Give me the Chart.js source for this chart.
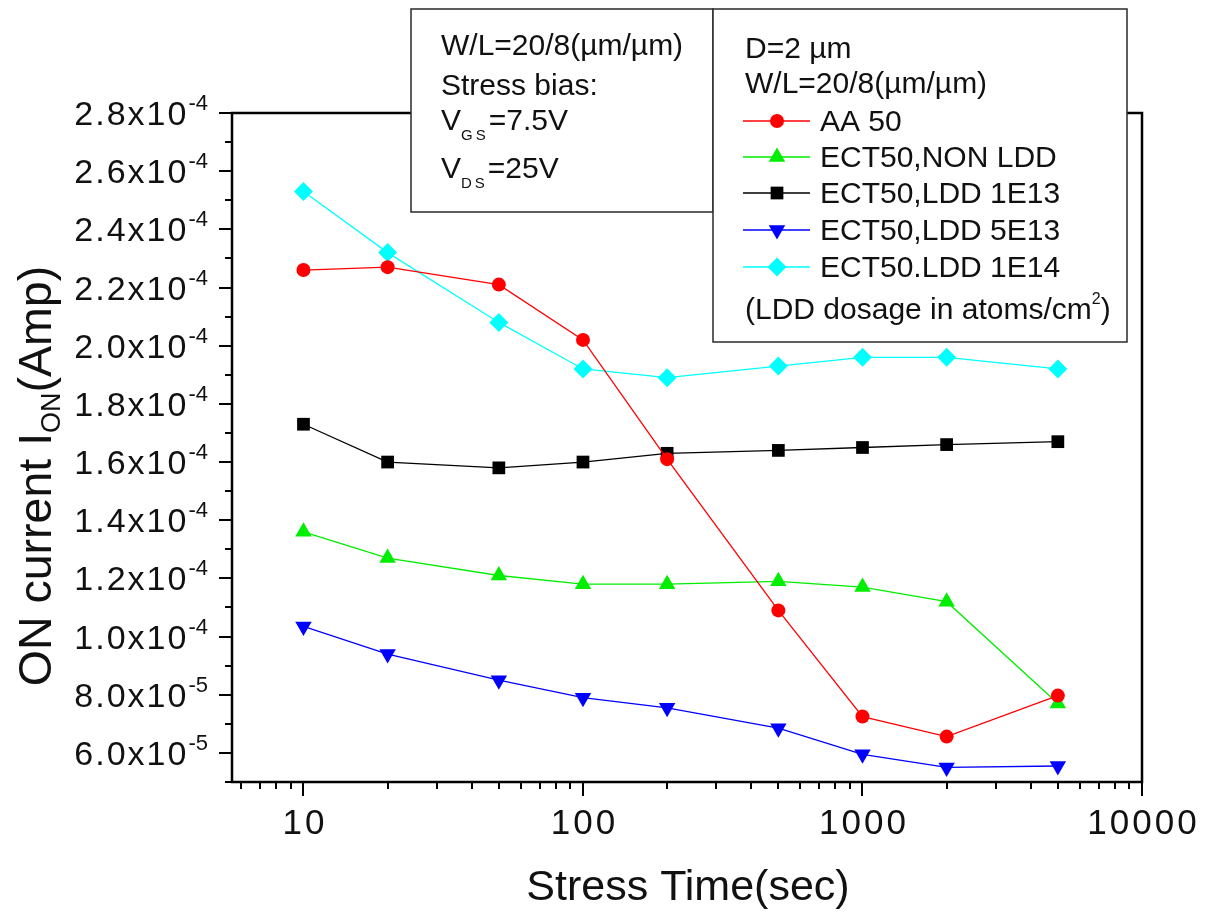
<!DOCTYPE html>
<html>
<head>
<meta charset="utf-8">
<script src="https://cdn.jsdelivr.net/npm/chart.js@4.4.1/dist/chart.umd.min.js"></script>
<style>
  html, body { margin: 0; padding: 0; background: #ffffff; }
  #wrap { width: 1210px; height: 915px; position: relative; }
</style>
</head>
<body>
<div id="wrap"><canvas id="c" width="1210" height="915"></canvas></div>
<script>
// Stress time (s) and ON current (A) for each device
const stressTimes = [10, 20, 50, 100, 200, 500, 1000, 2000, 5000];
const aa50         = [2.26e-4, 2.27e-4, 2.21e-4, 2.02e-4, 1.61e-4, 1.09e-4, 7.25e-5, 6.56e-5, 7.97e-5];
const ect50NonLdd  = [1.36e-4, 1.27e-4, 1.21e-4, 1.18e-4, 1.18e-4, 1.19e-4, 1.17e-4, 1.12e-4, 7.7e-5];
const ect50Ldd1e13 = [1.73e-4, 1.60e-4, 1.58e-4, 1.60e-4, 1.63e-4, 1.64e-4, 1.65e-4, 1.66e-4, 1.67e-4];
const ect50Ldd5e13 = [1.035e-4, 9.4e-5, 8.5e-5, 7.9e-5, 7.55e-5, 6.85e-5, 5.95e-5, 5.5e-5, 5.55e-5];
const ect50Ldd1e14 = [2.53e-4, 2.32e-4, 2.08e-4, 1.92e-4, 1.89e-4, 1.93e-4, 1.96e-4, 1.96e-4, 1.92e-4];
const seriesLabels = ['AA 50', 'ECT50,NON LDD', 'ECT50,LDD 1E13', 'ECT50,LDD 5E13', 'ECT50.LDD 1E14'];

// Axis ticks
const xMajorTicks = [10, 100, 1000, 10000];
const xMajorLabels = ['10', '100', '1000', '10000'];
const xMinorTicks = [6, 7, 8, 9, 20, 30, 40, 50, 60, 70, 80, 90, 200, 300, 400, 500, 600, 700, 800, 900,
                     2000, 3000, 4000, 5000, 6000, 7000, 8000, 9000];
const yMajorTicks = [6.0e-5, 8.0e-5, 1.0e-4, 1.2e-4, 1.4e-4, 1.6e-4, 1.8e-4, 2.0e-4, 2.2e-4, 2.4e-4, 2.6e-4, 2.8e-4];
const yTickMantissa = ['6.0', '8.0', '1.0', '1.2', '1.4', '1.6', '1.8', '2.0', '2.2', '2.4', '2.6', '2.8'];
const yTickExponent = ['-5', '-5', '-4', '-4', '-4', '-4', '-4', '-4', '-4', '-4', '-4', '-4'];
const yMinorTicks = [5.0e-5, 7.0e-5, 9.0e-5, 1.1e-4, 1.3e-4, 1.5e-4, 1.7e-4, 1.9e-4, 2.1e-4, 2.3e-4, 2.5e-4, 2.7e-4];

const FONT = "'Liberation Sans', Arial, Helvetica, sans-serif";

function pts(values) {
  return stressTimes.map((t, i) => ({ x: t, y: values[i] }));
}

function series(label, values, color, style, radius, rotation) {
  return {
    label: label,
    data: pts(values),
    borderColor: color,
    backgroundColor: color,
    borderWidth: 1.3,
    pointStyle: style,
    pointRadius: radius,
    pointRotation: rotation || 0,
    pointBorderWidth: 0,
    pointBackgroundColor: color,
    showLine: true,
    tension: 0
  };
}

const datasets = [
  series(seriesLabels[0], aa50, '#ff0000', 'circle', 7),
  series(seriesLabels[1], ect50NonLdd, '#00ee00', 'triangle', 9.5),
  series(seriesLabels[2], ect50Ldd1e13, '#000000', 'rect', 9),
  series(seriesLabels[3], ect50Ldd5e13, '#0000ff', 'triangle', 9.5, 180),
  series(seriesLabels[4], ect50Ldd1e14, '#00ffff', 'rectRot', 9.5)
];

// draw a run of text pieces with individual size, spacing and vertical offset
function setPart(ctx, p) {
  ctx.font = p.size + 'px ' + FONT;
  if ('letterSpacing' in ctx) ctx.letterSpacing = (p.ls || 0) + 'px';
}
function richWidth(ctx, parts) {
  let w = 0;
  parts.forEach(p => {
    setPart(ctx, p);
    w += ctx.measureText(p.t).width + (p.gap || 0);
  });
  return w;
}
function drawRich(ctx, parts, x, y) {
  let cx = x;
  parts.forEach(p => {
    setPart(ctx, p);
    ctx.fillText(p.t, cx, y + (p.dy || 0));
    cx += ctx.measureText(p.t).width + (p.gap || 0);
  });
  if ('letterSpacing' in ctx) ctx.letterSpacing = '0px';
  return cx;
}

function marker(ctx, ds, x, y) {
  ctx.save();
  ctx.fillStyle = ds.pointBackgroundColor;
  ctx.strokeStyle = ds.pointBackgroundColor;
  Chart.helpers.drawPoint(ctx, {
    pointStyle: ds.pointStyle,
    rotation: ds.pointRotation,
    radius: ds.pointRadius,
    borderWidth: 0
  }, x, y);
  ctx.restore();
}

const decorations = {
  id: 'decorations',
  afterDraw(chart) {
    const ctx = chart.ctx;
    const xs = chart.scales.x, ys = chart.scales.y;
    const a = chart.chartArea;
    ctx.save();

    // frame
    ctx.strokeStyle = '#000';
    ctx.lineWidth = 2.5;
    ctx.strokeRect(a.left, a.top, a.right - a.left, a.bottom - a.top);

    // y ticks
    ctx.lineWidth = 2;
    ctx.beginPath();
    yMajorTicks.forEach(v => {
      const py = Math.round(ys.getPixelForValue(v));
      ctx.moveTo(a.left - 13, py); ctx.lineTo(a.left, py);
    });
    yMinorTicks.forEach(v => {
      const py = Math.round(ys.getPixelForValue(v));
      ctx.moveTo(a.left - 7, py); ctx.lineTo(a.left, py);
    });
    // x ticks
    xMajorTicks.forEach(v => {
      const px = Math.round(xs.getPixelForValue(v));
      ctx.moveTo(px, a.bottom); ctx.lineTo(px, a.bottom + 14);
    });
    xMinorTicks.forEach(v => {
      const px = Math.round(xs.getPixelForValue(v));
      ctx.moveTo(px, a.bottom); ctx.lineTo(px, a.bottom + 7);
    });
    ctx.stroke();

    // y tick labels  m.m x10^e
    ctx.fillStyle = '#111';
    ctx.textBaseline = 'alphabetic';
    ctx.textAlign = 'left';
    yMajorTicks.forEach((v, i) => {
      const py = ys.getPixelForValue(v);
      const parts = [
        { t: yTickMantissa[i] + 'x10', size: 34, ls: 2 },
        { t: yTickExponent[i], size: 22, dy: -15 }
      ];
      const w = richWidth(ctx, parts);
      drawRich(ctx, parts, 208 - w, py + 12);
    });

    // x tick labels
    xMajorTicks.forEach((v, i) => {
      const parts = [{ t: xMajorLabels[i], size: 35, ls: 3 }];
      const w = richWidth(ctx, parts) - 3;
      drawRich(ctx, parts, xs.getPixelForValue(v) - w / 2, 834);
    });

    // axis titles
    ctx.textAlign = 'center';
    ctx.font = '43px ' + FONT;
    ctx.fillText('Stress Time(sec)', 688, 900);

    ctx.textAlign = 'left';
    ctx.save();
    ctx.translate(51, 476);
    ctx.rotate(-Math.PI / 2);
    const yTitle = [
      { t: 'ON current I', size: 46.5 },
      { t: 'ON', size: 27, dy: 9 },
      { t: '(Amp)', size: 46.5 }
    ];
    drawRich(ctx, yTitle, -richWidth(ctx, yTitle) / 2, 0);
    ctx.restore();

    // stress condition box
    ctx.fillStyle = '#fff';
    ctx.strokeStyle = '#2a2a2a';
    ctx.lineWidth = 1.5;
    ctx.fillRect(411, 9, 302, 203);
    ctx.strokeRect(411, 9, 302, 203);
    ctx.fillRect(713, 9, 414, 333);
    ctx.strokeRect(713, 9, 414, 333);

    ctx.fillStyle = '#111';
    drawRich(ctx, [{ t: 'W/L=20/8(\u00b5m/\u00b5m)', size: 30 }], 441, 55);
    drawRich(ctx, [{ t: 'Stress bias:', size: 30 }], 441, 95);
    drawRich(ctx, [{ t: 'V', size: 30 }, { t: 'GS', size: 15, ls: 3, dy: 10 }, { t: '=7.5V', size: 30 }], 441, 130);
    drawRich(ctx, [{ t: 'V', size: 30 }, { t: 'DS', size: 15, ls: 3, dy: 10 }, { t: '=25V', size: 30 }], 441, 178);

    // device legend box
    drawRich(ctx, [{ t: 'D=2 \u00b5m', size: 30 }], 745, 58);
    drawRich(ctx, [{ t: 'W/L=20/8(\u00b5m/\u00b5m)', size: 30 }], 745, 93);
    const rowY = [121, 157, 193, 230, 267];
    chart.data.datasets.forEach((ds, i) => {
      const y = rowY[i];
      ctx.strokeStyle = ds.borderColor;
      ctx.lineWidth = 1.3;
      ctx.beginPath();
      ctx.moveTo(743, y); ctx.lineTo(810, y);
      ctx.stroke();
      marker(ctx, ds, 777, y);
      ctx.fillStyle = '#111';
      drawRich(ctx, [{ t: ds.label, size: 30 }], 820, y + 10);
    });
    drawRich(ctx, [
      { t: '(LDD dosage in atoms/cm', size: 30 },
      { t: '2', size: 16, dy: -15 },
      { t: ')', size: 30 }
    ], 745, 319);

    ctx.restore();
  }
};

new Chart(document.getElementById('c'), {
  type: 'scatter',
  data: { datasets: datasets },
  options: {
    responsive: false,
    animation: false,
    devicePixelRatio: 1,
    layout: { padding: { top: 113, right: 68, left: 0, bottom: 0 } },
    plugins: { legend: { display: false }, tooltip: { enabled: false } },
    scales: {
      x: {
        type: 'logarithmic',
        min: 5.55,
        max: 10000,
        grid: { display: false },
        border: { display: false },
        ticks: { display: false },
        afterFit(s) { s.height = 133; }
      },
      y: {
        type: 'linear',
        min: 5.0e-5,
        max: 2.8e-4,
        grid: { display: false },
        border: { display: false },
        ticks: { display: false },
        afterFit(s) { s.width = 232; }
      }
    }
  },
  plugins: [decorations]
});
</script>
</body>
</html>
